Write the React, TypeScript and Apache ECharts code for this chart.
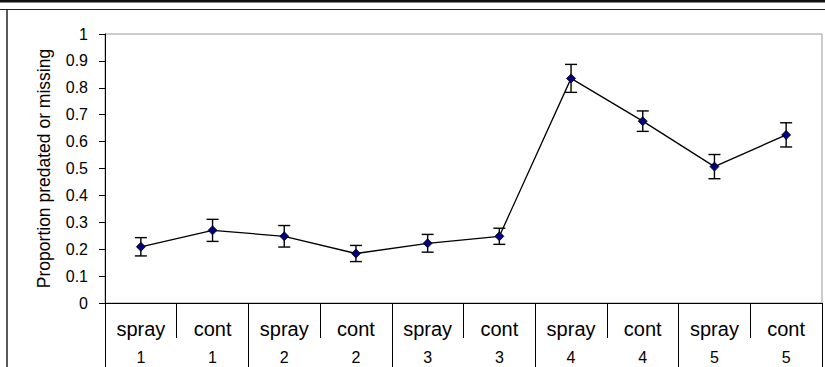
import React, { useEffect, useRef } from "react";
import * as echarts from "echarts";

const treatments = ["spray", "cont", "spray", "cont", "spray", "cont", "spray", "cont", "spray", "cont"];
const sites = ["1", "1", "2", "2", "3", "3", "4", "4", "5", "5"];
const groups = ["1", "2", "3", "4", "5"];
const means = [0.209, 0.27, 0.248, 0.184, 0.222, 0.248, 0.835, 0.676, 0.507, 0.625];
const errs = [0.034, 0.041, 0.04, 0.03, 0.033, 0.03, 0.052, 0.038, 0.045, 0.045];
const yTicks = [0, 0.1, 0.2, 0.3, 0.4, 0.5, 0.6, 0.7, 0.8, 0.9, 1];

const FONT = "Liberation Sans, Arial, sans-serif";

export default function App() {
  const ref = useRef<HTMLDivElement>(null);
  useEffect(() => {
    if (!ref.current) return;
    const chart = echarts.init(ref.current, null, { renderer: "svg" });
    const cats = treatments.map((t, i) => `${t} ${sites[i]}`);
    const errData = means.map((m, i) => [i, m - errs[i], m + errs[i]]);
    chart.setOption({
      animation: false,
      backgroundColor: "#fff",
      textStyle: { fontFamily: FONT },
      grid: {
        left: 105,
        top: 34,
        right: 3,
        bottom: 64,
        show: true,
        borderColor: "#999",
        borderWidth: 1,
      },
      xAxis: [
        {
          type: "category",
          data: cats,
          position: "bottom",
          axisLine: { lineStyle: { color: "#000", width: 1 } },
          axisTick: { show: true, length: 35, interval: 0, lineStyle: { color: "#000" } },
          axisLabel: {
            interval: 0,
            margin: 12,
            fontSize: 16,
            formatter: (_v: string, i: number) => `{t|${treatments[i]}}\n{s|${sites[i]}}`,
            rich: {
              t: { fontSize: 20, lineHeight: 28, color: "#000", fontFamily: FONT },
              s: { fontSize: 16, lineHeight: 28, color: "#000", fontFamily: FONT },
            },
          },
          splitLine: { show: false },
        },
        {
          type: "category",
          data: groups,
          position: "bottom",
          axisLine: { show: false },
          axisTick: { show: true, length: 64, interval: 0, lineStyle: { color: "#000" } },
          axisLabel: { show: false },
          splitLine: { show: false },
        },
      ],
      yAxis: {
        type: "value",
        min: 0,
        max: 1,
        interval: 0.1,
        name: "Proportion predated or missing",
        nameLocation: "middle",
        nameGap: 52,
        nameTextStyle: { fontSize: 17.5, color: "#000", fontFamily: FONT },
        axisLine: { show: true, lineStyle: { color: "#000" } },
        axisTick: { show: true, length: 6, inside: false, lineStyle: { color: "#000" } },
        axisLabel: {
          margin: 17,
          fontSize: 16,
          color: "#000",
          fontFamily: FONT,
          formatter: (v: number) => {
            const t = yTicks.find((y) => Math.abs(y - v) < 1e-6);
            return String(t !== undefined ? t : Math.round(v * 10) / 10);
          },
        },
        splitLine: { show: false },
      },
      graphic: [
        { type: "line", shape: { x1: 0, y1: 1.3, x2: 825, y2: 1.3 }, style: { stroke: "#111", lineWidth: 2.5 } },
        { type: "line", shape: { x1: 0, y1: 9.5, x2: 825, y2: 9.5 }, style: { stroke: "#222", lineWidth: 1.2 } },
        { type: "line", shape: { x1: 7, y1: 9.5, x2: 7, y2: 367 }, style: { stroke: "#222", lineWidth: 1.5 } },
        { type: "line", shape: { x1: 105.5, y1: 303, x2: 105.5, y2: 367 }, style: { stroke: "#000", lineWidth: 1 } },
      ],
      series: [
        {
          type: "custom",
          xAxisIndex: 0,
          data: errData,
          z: 3,
          renderItem: (_p: any, api: any) => {
            const x = api.value(0);
            const lo = api.coord([x, api.value(1)]);
            const hi = api.coord([x, api.value(2)]);
            const w = 6;
            const style = { stroke: "#000", lineWidth: 1.4, fill: "none" };
            return {
              type: "group",
              children: [
                { type: "line", shape: { x1: lo[0], y1: lo[1], x2: hi[0], y2: hi[1] }, style },
                { type: "line", shape: { x1: lo[0] - w, y1: lo[1], x2: lo[0] + w, y2: lo[1] }, style },
                { type: "line", shape: { x1: hi[0] - w, y1: hi[1], x2: hi[0] + w, y2: hi[1] }, style },
              ],
            };
          },
        },
        {
          type: "line",
          xAxisIndex: 0,
          data: means,
          z: 4,
          symbol: "diamond",
          symbolSize: 9,
          showSymbol: true,
          lineStyle: { color: "#000", width: 1.3 },
          itemStyle: { color: "#000080", borderColor: "#000", borderWidth: 0.8 },
        },
      ],
    });
    return () => chart.dispose();
  }, []);
  return (
    <div
      ref={ref}
      style={{ position: "fixed", left: 0, top: 0, width: 825, height: 367 }}
    />
  );
}
